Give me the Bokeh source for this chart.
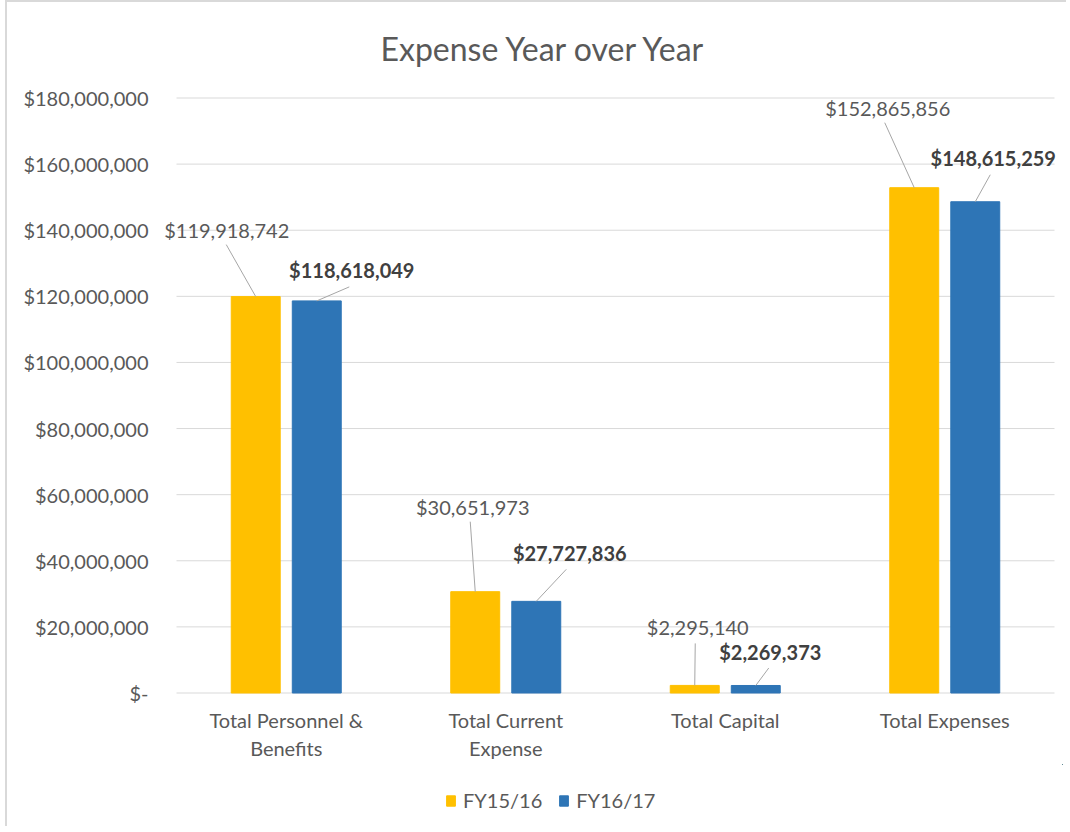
from bokeh.plotting import figure
from bokeh.layouts import column
from bokeh.models import FixedTicker, Legend, LegendItem, Range1d, ColumnDataSource
from bokeh.embed import file_html
from bokeh.resources import INLINE
from bokeh.core.properties import value

# ---- data ----
categories = ["Total Personnel &\nBenefits", "Total Current\nExpense", "Total Capital", "Total Expenses"]
fy1516 = [119918742, 30651973, 2295140, 152865856]
fy1617 = [118618049, 27727836, 2269373, 148615259]
series_names = ["FY15/16", "FY16/17"]
y_ticks = [0, 20000000, 40000000, 60000000, 80000000, 100000000, 120000000, 140000000, 160000000, 180000000]
y_tick_labels = ["$-", "$20,000,000", "$40,000,000", "$60,000,000", "$80,000,000", "$100,000,000",
                 "$120,000,000", "$140,000,000", "$160,000,000", "$180,000,000"]

# ---- style / layout ----
FONT = "Lato"
TXT = "#595959"
YELLOW = "#FFC000"
BLUE = "#2E75B6"
GRID = "#D9D9D9"
ML, MR, MT, MB = 147, 4, 89, 70
FRAME_W, FRAME_H = 908, 603
W = ML + FRAME_W + MR
LEG_H = 824 - (MT + FRAME_H + MB)
n = len(categories)
PX_PER_CAT = 219.5           # width of one category slot in pixels
PX_PER_TOP = 595.0           # pixels from 0 to the top tick
Y_TOP = y_ticks[-1]
val_per_px = Y_TOP / PX_PER_TOP
GRID_INSET_L = 22            # grid starts this far right of frame edge
x_start = -GRID_INSET_L / PX_PER_CAT
x_end = x_start + FRAME_W / PX_PER_CAT
y_start = -1.5 * val_per_px
y_end = y_start + FRAME_H * val_per_px
dodge = 0.139
bar_w = 0.223
colors = [YELLOW, BLUE]

# data-label offsets (pixels, up = positive) from each bar's top centre
lab_dx = [[-29, -2.5, 3, -26.5], [35, 33.5, 14.5, 18]]
lab_dy = [[67, 85, 58, 80], [31, 48, 33.5, 44]]
lead_dx = [[-29.5, -5, 0.5, -29.5], [32.5, 30, 13, 15]]
lead_dy = [[52, 70, 42, 65], [14, 32, 17.5, 27]]

p = figure(frame_width=FRAME_W, frame_height=FRAME_H, output_backend="svg", toolbar_location=None,
           x_range=Range1d(x_start, x_end), y_range=Range1d(y_start, y_end),
           min_border_left=ML, min_border_right=MR, min_border_top=MT, min_border_bottom=MB,
           title="Expense Year over Year")
p.outline_line_color = None
p.background_fill_color = "white"
p.border_fill_color = "white"

p.title.align = "left"
p.title.offset = 226
p.title.text_font = FONT
p.title.text_font_size = "32px"
p.title.text_font_style = "normal"
p.title.text_color = TXT
p.title.standoff = 47

# axes
p.yaxis.ticker = FixedTicker(ticks=y_ticks)
p.yaxis.major_label_overrides = {t: l for t, l in zip(y_ticks, y_tick_labels)}
p.yaxis.axis_line_color = None
p.yaxis.major_tick_line_color = None
p.yaxis.minor_tick_line_color = None
p.yaxis.major_label_standoff = 0
p.yaxis.major_label_text_font = FONT
p.yaxis.major_label_text_font_size = "20px"
p.yaxis.major_label_text_color = TXT

centers = [i + 0.5 for i in range(n)]
p.xaxis.ticker = FixedTicker(ticks=centers)
p.xaxis.major_label_overrides = {c: l for c, l in zip(centers, categories)}
p.xaxis.axis_line_color = None
p.xaxis.major_tick_line_color = None
p.xaxis.minor_tick_line_color = None
p.xaxis.major_label_standoff = 7
p.xaxis.major_label_text_font = FONT
p.xaxis.major_label_text_font_size = "20px"
p.xaxis.major_label_text_color = TXT
p.xaxis.major_label_text_line_height = 1.2

p.xgrid.grid_line_color = None
p.ygrid.grid_line_color = None
# horizontal gridlines spanning the category area only
p.segment(x0=[0] * len(y_ticks), x1=[n] * len(y_ticks), y0=y_ticks, y1=y_ticks,
          line_color=GRID, line_width=1)

# ---- legend strip below the chart (frames are aligned by the column) ----
# its ranges are far away from the data, so the series drawn there stay out of view
lf = figure(width=W, height=LEG_H, output_backend="svg", toolbar_location=None,
            x_axis_type=None, y_axis_type=None, min_border=0,
            x_range=Range1d(-1000, -999), y_range=Range1d(-2e9, -1.9e9))
lf.outline_line_color = None
lf.grid.visible = False

leg_renderers = []
for s, (vals, off) in enumerate([(fy1516, -dodge), (fy1617, dodge)]):
    col = colors[s]
    xs = [c + off for c in centers]
    src = ColumnDataSource(dict(x=xs, top=vals))
    p.vbar(x="x", top="top", width=bar_w, bottom=0, source=src, fill_color=col, line_color=col)
    leg_renderers.append(lf.vbar(x="x", top="top", width=bar_w, bottom=0, source=src,
                                 fill_color=col, line_color=col))
    # leader lines
    x1 = [x + d / PX_PER_CAT for x, d in zip(xs, lead_dx[s])]
    y1 = [v + d * val_per_px for v, d in zip(vals, lead_dy[s])]
    p.segment(x0=xs, y0=vals, x1=x1, y1=y1, line_color="#A6A6A6", line_width=1)
    # labels
    tx = [x + d / PX_PER_CAT for x, d in zip(xs, lab_dx[s])]
    ty = [v + d * val_per_px for v, d in zip(vals, lab_dy[s])]
    txt = ["${:,}".format(v) for v in vals]
    p.text(x=tx, y=ty, text=txt, text_align="center", text_baseline="middle",
           text_font=value(FONT), text_font_size="20px",
           text_font_style="normal" if s == 0 else "bold",
           text_color=TXT if s == 0 else "#404040")

legend = Legend(items=[LegendItem(label=series_names[i], renderers=[leg_renderers[i]], index=0)
                       for i in range(2)],
                orientation="horizontal", location=(291, 14),
                label_text_font=FONT, label_text_font_size="20px", label_text_color=TXT,
                glyph_width=11, glyph_height=13, label_standoff=7, spacing=16,
                padding=0, margin=0, border_line_color=None, background_fill_alpha=0)
lf.add_layout(legend, "center")

layout = column(p, lf, spacing=0)
layout.styles = {"border-left": "2px solid #D9D9D9", "border-top": "2px solid #D9D9D9",
                 "margin-left": "5px"}

open("out.html", "w").write(file_html(layout, INLINE))
